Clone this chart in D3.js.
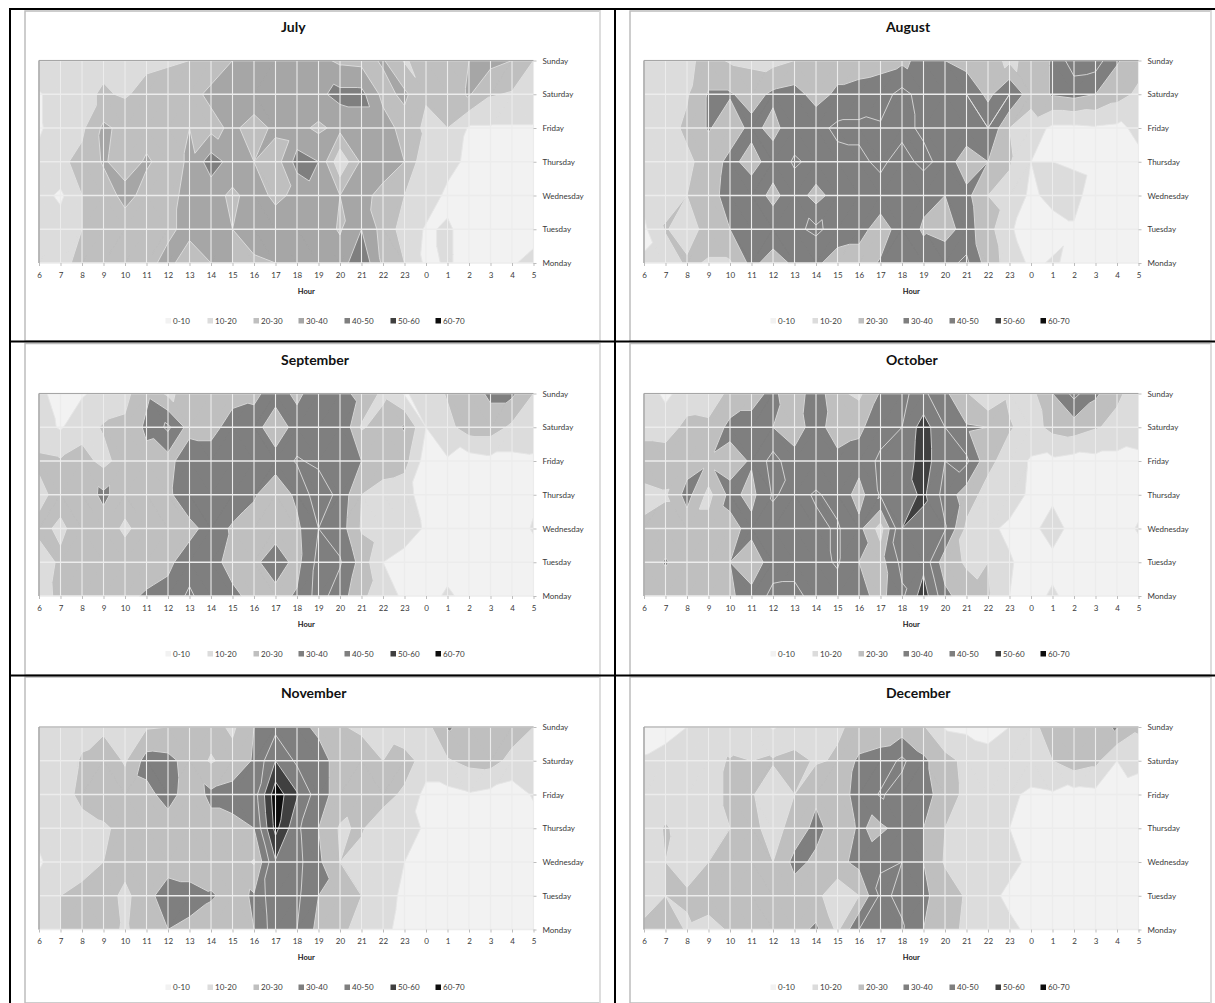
<!DOCTYPE html>
<html><head><meta charset="utf-8">
<script src="https://cdnjs.cloudflare.com/ajax/libs/d3/7.8.5/d3.min.js"></script>
<style>html,body{margin:0;padding:0;background:#fff}svg{display:block}text{font-family:Lato,"Open Sans",sans-serif}</style>
</head><body><svg id="c" width="1215" height="1003"></svg>
<script>
const hours=[6,7,8,9,10,11,12,13,14,15,16,17,18,19,20,21,22,23,0,1,2,3,4,5];
const days=["Monday","Tuesday","Wednesday","Thursday","Friday","Saturday","Sunday"];
const bands=["0-10","10-20","20-30","30-40","40-50","50-60","60-70"];
const thresholds=[10,20,30,40,50,60];
const greysJuly=["#f2f2f2","#dcdcdc","#bfbfbf","#a6a6a6","#7f7f7f","#404040","#0d0d0d"];
const greysOther=["#f2f2f2","#dcdcdc","#bfbfbf","#7f7f7f","#7f7f7f","#404040","#0d0d0d"];
// rows Monday to Sunday, columns hour 6 ... 23, 0 ... 5
const july=[
[14,16,24,25,26,27, 33,24,30,30,29,30, 32,33,35,48,28,20, 8,11,7,7,9,13],
[12,15,20,24,25,26, 28,33,34,30,33,35, 35,35,29,40,26,16, 9,11,7,5,5,6],
[14,8,20,25,33,27, 28,32,34,28,34,28, 32,37,30,33,27,20, 15,8,5,5,5,5],
[12,18,23,31,26,31, 27,31,45,36,30,25, 44,40,12,32,35,30, 12,13,8,7,6,6],
[9,14,18,32,27,27, 27,30,27,32,26,32, 33,28,33,35,35,26, 18,20,9,9,9,9],
[9,15,18,21,19,23, 24,27,32,36,36,37, 38,38,43,43,27,32, 21,25,31,21,19,18],
[18,18,18,18,17,18, 19,20,25,30,33,35, 35,33,28,27,31,19, 24,25,30,33,30,20]];
const august=[
[11,13,22,19,19,33, 25,32,32,25,25,31, 33,34,37,42,25,16, 8,11,8,6,6,6],
[8,21,14,25,30,36, 37,38,42,36,34,25, 35,29,26,34,24,11, 6,6,9,6,6,6],
[13,16,20,26,34,36, 27,36,26,35,36,36, 36,32,30,33,20,17, 8,13,13,5,5,5],
[14,16,18,24,33,26, 35,41,38,37,38,42, 36,43,36,24,30,21, 10,10,9,8,8,8],
[14,16,22,31,24,33, 27,36,37,42,42,41, 43,38,37,37,40,20, 15,8,8,9,8,12],
[15,16,19,31,31,26, 32,34,26,32,34,36, 43,36,37,40,27,40, 24,31,33,30,24,18],
[15,16,18,23,19,18, 17,20,24,25,25,26, 28,33,30,25,24,18, 23,31,46,45,31,24]];
const september=[
[13,24,26,27,28,31, 33,42,33,33,26,27, 31,44,35,22,15,8, 5,12,6,5,5,5],
[14,22,24,25,26,26, 28,35,35,25,28,35, 27,43,41,26,10,7, 5,5,5,5,5,5],
[23,18,25,26,18,25, 27,27,34,29,26,26, 28,40,35,19,16,14, 9,5,5,5,5,11],
[17,24,25,32,25,26, 28,37,36,35,31,24, 32,46,37,20,16,13, 6,5,5,5,5,8],
[22,21,24,17,25,27, 26,38,36,35,36,34, 41,38,36,30,25,24, 5,9,5,7,7,8],
[14,9,16,21,22,32, 42,26,26,35,34,24, 34,35,40,19,24,31, 10,17,25,25,18,17],
[13,5,9,13,17,28, 18,24,24,26,28,34, 28,35,33,27,18,9, 14,21,25,32,32,20]];
const october=[
[22,24,24,24,29,33, 43,43,36,36,33,27, 38,55,33,24,21,10, 5,12,5,5,5,5],
[23,31,24,24,30,24, 35,36,37,41,30,26, 43,47,24,19,20,11, 6,6,5,5,5,5],
[22,24,24,24,27,33, 36,37,38,41,33,16, 50,46,41,18,12,8, 6,16,5,5,5,11],
[17,19,34,17,33,27, 41,37,41,37,26,41, 45,52,36,25,16,15, 8,7,6,6,6,6],
[26,26,25,29,26,31, 44,33,34,33,34,42, 42,56,40,42,23,15, 9,8,6,7,7,8],
[16,15,23,22,33,33, 30,26,34,25,28,36, 40,55,40,31,30,21, 16,23,25,21,17,14],
[15,8,14,15,22,27, 32,24,36,22,18,31, 39,42,32,21,10,18, 17,30,43,32,22,15]];
const november=[
[14,20,22,23,19,24, 30,27,25,25,30,46, 40,27,22,17,13,6, 5,5,5,5,5,5],
[13,20,23,24,18,25, 38,35,31,27,31,48, 42,30,28,20,14,8, 5,5,5,5,5,5],
[9,14,16,20,23,23, 23,23,25,26,19,49, 43,32,20,17,14,10, 6,5,5,5,5,5],
[12,14,16,19,22,23, 25,26,27,27,30,63, 42,30,19,21,14,13, 9,6,6,6,6,6],
[12,15,23,24,25,27, 34,25,32,34,35,66, 51,34,26,22,24,18, 7,7,9,7,5,11],
[14,15,21,26,19,34, 33,26,19,24,31,50, 38,34,26,26,20,25, 15,19,23,24,17,11],
[15,16,17,18,18,19, 20,22,24,18,30,37, 33,28,21,18,15,11, 16,31,27,25,25,20]];
const december=[
[23,26,19,17,21,24, 25,26,32,18,40,43, 41,30,24,18,15,13, 7,5,5,5,5,5],
[14,20,21,24,24,25, 25,25,23,13,20,42, 38,32,25,19,14,7, 5,5,5,5,5,5],
[11,20,17,20,23,24, 20,33,28,27,33,39, 40,30,19,19,15,14, 7,5,5,5,5,5],
[14,21,16,18,20,23, 16,24,33,25,31,28, 34,30,20,19,16,10, 6,5,5,5,5,5],
[13,15,16,18,21,21, 14,20,28,26,33,41, 36,35,24,18,15,12, 8,9,6,7,7,5],
[11,14,15,16,21,20, 21,23,19,21,32,34, 42,32,24,17,13,15, 17,20,26,23,10,13],
[5,6,10,14,10,15, 9,14,15,19,22,24, 25,21,9,8,7,10, 17,25,20,27,31,22]];

const panels=[
 {name:"July",grid:july,greys:greysJuly,x0:39,top:60.5,frame:[25,11,600,341]},
 {name:"August",grid:august,greys:greysOther,x0:644,top:60.5,frame:[630,11,1211,341]},
 {name:"September",grid:september,greys:greysOther,x0:39,top:393.5,frame:[25,343.5,600,675]},
 {name:"October",grid:october,greys:greysOther,x0:644,top:393.5,frame:[630,343.5,1211,675]},
 {name:"November",grid:november,greys:greysOther,x0:39,top:727,frame:[25,677,600,1003]},
 {name:"December",grid:december,greys:greysOther,x0:644,top:727,frame:[630,677,1211,1003]}];
const PW=494.5,PH=202.5;
const legendOffsets=[134,176,222,267,313,359,404];
const svg=d3.select("#c");
const nx=hours.length,ny=days.length;

// Split every grid cell into two triangles, along the diagonal with the smaller value difference
function triangles(grid){
  const out=[];
  for(let j=0;j<ny-1;j++)for(let i=0;i<nx-1;i++){
    const P=[i,j,grid[j][i]],Q=[i+1,j+1,grid[j+1][i+1]],R=[i+1,j,grid[j][i+1]],S=[i,j+1,grid[j+1][i]];
    const d1=Math.abs(P[2]-Q[2]),d2=Math.abs(R[2]-S[2]);
    const useMain=d1<d2-1?true:d2<d1-1?false:(P[2]+Q[2]>=R[2]+S[2]);
    if(useMain){out.push([P,Q,R],[P,Q,S]);}else{out.push([R,S,P],[R,S,Q]);}
  }
  return out;
}
// Part of each triangle at or above a level, plus the contour segment through it
function bandGeometry(tris,level,x,y){
  const fill=d3.path(),line=d3.path();
  tris.forEach(t=>{
    const poly=[],cross=[];
    t.forEach((a,k)=>{
      const b=t[(k+1)%3];
      if(a[2]>=level)poly.push(a);
      if((a[2]>=level)!==(b[2]>=level)){
        const f=(level-a[2])/(b[2]-a[2]);
        const c=[a[0]+f*(b[0]-a[0]),a[1]+f*(b[1]-a[1])];
        poly.push(c);cross.push(c);
      }
    });
    if(poly.length>=3){
      poly.forEach((c,k)=>k?fill.lineTo(x(c[0]),y(c[1])):fill.moveTo(x(c[0]),y(c[1])));
      fill.closePath();
    }
    if(cross.length===2){
      line.moveTo(x(cross[0][0]),y(cross[0][1]));
      line.lineTo(x(cross[1][0]),y(cross[1][1]));
    }
  });
  return {fill:fill.toString(),line:line.toString()};
}

panels.forEach((p,pi)=>{
  const [fx0,fy0,fx1,fy1]=p.frame;
  svg.append("rect").attr("x",fx0).attr("y",fy0).attr("width",fx1-fx0).attr("height",fy1-fy0)
    .attr("fill","#fff").attr("stroke","#bdbdbd").attr("stroke-width",1.5);
  svg.append("line").attr("x1",fx1).attr("x2",fx1).attr("y1",fy0).attr("y2",fy1).attr("stroke","#e2e2e2").attr("stroke-width",1.5);
  const g=svg.append("g");
  const x=d3.scaleLinear().domain([0,nx-1]).range([p.x0,p.x0+PW]);
  const y=d3.scaleLinear().domain([0,ny-1]).range([p.top+PH,p.top]);
  const plot=g.append("g");
  plot.append("rect").attr("x",p.x0).attr("y",p.top).attr("width",PW).attr("height",PH).attr("fill",p.greys[0]);
  const tris=triangles(p.grid);
  thresholds.forEach((t,k)=>{
    const geo=bandGeometry(tris,t,x,y);
    plot.append("path").attr("d",geo.fill).attr("fill",p.greys[k+1]).attr("stroke",p.greys[k+1]).attr("stroke-width",0.3);
    plot.append("path").attr("d",geo.line).attr("fill","none").attr("stroke","#e6e6e6").attr("stroke-width",0.8);
  });
  plot.selectAll("line.v").data(hours.map((h,i)=>i)).join("line").attr("class","v")
    .attr("x1",d=>x(d)).attr("x2",d=>x(d)).attr("y1",p.top).attr("y2",p.top+PH)
    .attr("stroke","#ececec").attr("stroke-width",1.1);
  plot.selectAll("line.h").data(days.map((h,i)=>i)).join("line").attr("class","h")
    .attr("y1",d=>y(d)).attr("y2",d=>y(d)).attr("x1",p.x0).attr("x2",p.x0+PW)
    .attr("stroke","#ececec").attr("stroke-width",1.3);
  g.append("line").attr("x1",p.x0).attr("x2",p.x0).attr("y1",p.top).attr("y2",p.top+PH).attr("stroke","#a6a6a6").attr("stroke-width",1.5);
  g.append("line").attr("x1",p.x0).attr("x2",p.x0+PW).attr("y1",p.top).attr("y2",p.top).attr("stroke","#a6a6a6").attr("stroke-width",1.2);
  const ax=d3.axisBottom(x).tickValues(hours.map((h,i)=>i)).tickFormat(i=>hours[i]).tickSize(3).tickPadding(6);
  const ga=g.append("g").attr("transform",`translate(0,${p.top+PH})`).call(ax);
  const ay=d3.axisRight(y).tickValues(days.map((h,i)=>i)).tickFormat(i=>days[i]).tickSize(3).tickPadding(6);
  const gb=g.append("g").attr("transform",`translate(${p.x0+PW},0)`).call(ay);
  [ga,gb].forEach(s=>{s.select(".domain").attr("stroke","none");
    s.selectAll(".tick line").attr("stroke","#bdbdbd");
    s.selectAll("text").attr("fill","#3a3a3a").style("font-size","8px").style("font-family","Lato,sans-serif");});
  g.append("text").attr("x",p.x0+PW/2+20).attr("y",p.top+PH+30.5).attr("text-anchor","middle")
    .style("font-size","7.5px").style("font-weight","700").attr("fill","#222").text("Hour");
  g.append("text").attr("x",p.x0+242).attr("y",p.top-29).attr("font-weight","700")
    .style("font-size","14px").attr("fill","#111").text(p.name);
  const ly=p.top+PH+58;
  bands.forEach((b,i)=>{
    g.append("rect").attr("x",p.x0+legendOffsets[i]-7.5).attr("y",ly-3).attr("width",5.5).attr("height",5.5).attr("fill",p.greys[i]);
    g.append("text").attr("x",p.x0+legendOffsets[i]).attr("y",ly+2.5).style("font-size","8px").attr("fill","#3a3a3a").text(b);
  });
});
const rules=[[10,8,10,1003],[615,8,615,1003],[10,9,1215,9],[10,341.5,1215,341.5],[10,675.5,1215,675.5]];
svg.selectAll("line.rule").data(rules).join("line").attr("class","rule")
  .attr("x1",d=>d[0]).attr("y1",d=>d[1]).attr("x2",d=>d[2]).attr("y2",d=>d[3])
  .attr("stroke","#000").attr("stroke-width",2);
</script></body></html>
